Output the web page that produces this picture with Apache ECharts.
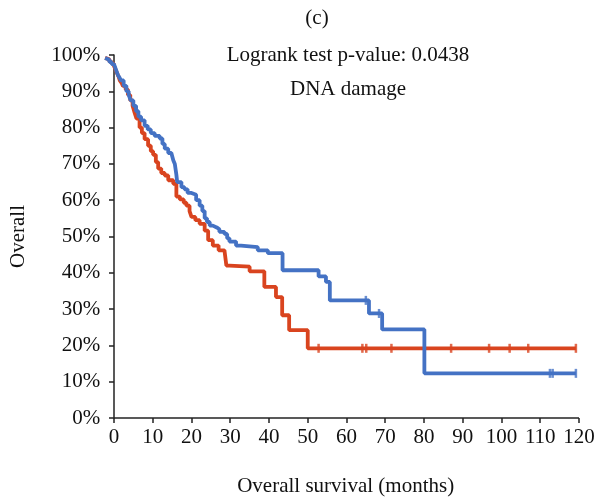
<!DOCTYPE html>
<html>
<head>
<meta charset="utf-8">
<script src="https://cdn.jsdelivr.net/npm/echarts@6/dist/echarts.min.js"></script>
<style>
  html, body { margin: 0; padding: 0; background: #fff; }
  #chart { width: 594px; height: 499px; }
</style>
</head>
<body>
<div id="chart"></div>
<script>
// Kaplan-Meier estimates: [month, survival %] after each step
const highGroup = [
  [-2.3, 99.2], [-1.8, 98.8], [-1.2, 98.2], [-0.6, 97.6], [0, 97], [0.4, 96], [0.8, 95],
  [1.2, 94], [1.5, 93], [2.0, 92.2], [2.3, 91.5], [3.0, 90.5],
  [3.6, 89], [4.2, 87.5], [4.8, 86], [5.3, 84.2], [5.8, 82.5], [6.6, 80], [7.2, 78.5],
  [7.9, 76.8], [8.8, 75], [9.5, 73.5], [10.1, 72.5], [10.8, 70.5], [11.4, 68.7],
  [12.2, 67.5], [13.1, 66.8], [14.0, 65.5], [15.3, 64.5], [16.1, 61], [17.0, 60.2],
  [18.0, 59.3], [18.7, 58.5], [19.5, 57], [20.0, 55.4], [21.0, 54.5], [22.1, 53.5],
  [23.4, 51.6], [24.3, 49], [25.5, 47.5], [27.0, 46.2], [28.5, 45.7], [29.0, 42],
  [29.8, 41.7], [35.0, 40.4], [38.8, 36.1], [41.8, 33.3], [43.4, 28.3], [45.2, 24.2],
  [50.0, 19.2], [119.2, 19.2]
];
const lowGroup = [
  [-2.3, 99.2], [-1.8, 98.7], [-1.2, 98.1], [-0.6, 97.5], [0, 97], [0.5, 96], [1.0, 94.5],
  [1.4, 93.8], [1.8, 93],
  [2.5, 91.5], [3.2, 90], [3.8, 89], [4.3, 87.5], [5.0, 86], [5.7, 84.5], [6.3, 83],
  [7.0, 82], [7.9, 80.5], [8.7, 79.5], [9.5, 78.5], [10.5, 77.7], [11.8, 77],
  [12.5, 75.5], [13.1, 74.2], [14.0, 73], [14.8, 72.5], [15.3, 71], [15.7, 70],
  [16.1, 67], [16.3, 65], [17.4, 63.6], [18.2, 63], [19.0, 62], [20.0, 61.5],
  [21.2, 60], [22.1, 58.5], [22.8, 57], [23.4, 55], [24.0, 54], [24.7, 53], [25.5, 52.5],
  [26.5, 52], [27.2, 51.3], [28.5, 50.7], [29.2, 49.5], [29.8, 48.6], [31.5, 47.5],
  [32.8, 47.1], [37.1, 46.2], [39.7, 45.4], [43.5, 40.7], [52.8, 39.0], [54.7, 37.5],
  [55.7, 32.4], [65.8, 28.8], [69.2, 24.4], [80.1, 12.3], [119.2, 12.3]
];
// censored observations
const highCensored = [
  [52.8, 19.2], [64.1, 19.2], [65.1, 19.2], [71.6, 19.2], [87.0, 19.2],
  [96.8, 19.2], [102.1, 19.2], [106.9, 19.2], [119.2, 19.2]
];
const lowCensored = [
  [65.0, 32.4], [68.4, 28.8], [112.5, 12.3], [113.2, 12.3], [119.2, 12.3]
];
const xTicks = [0, 10, 20, 30, 40, 50, 60, 70, 80, 90, 100, 110, 120];

const RED = '#D9441F';
const BLUE = '#4472C4';
const FONT = 'Liberation Serif';
const AXIS = '#222';
const TXT = '#111';
const FS = 21;

const chart = echarts.init(document.getElementById('chart'), null, { renderer: 'canvas' });
chart.setOption({
  backgroundColor: '#fff',
  animation: false,
  textStyle: { fontFamily: FONT },
  title: [
    { text: '(c)', left: 312, top: 3, textAlign: 'center',
      textStyle: { fontFamily: FONT, fontSize: FS, fontWeight: 'normal', color: TXT } },
    { text: 'Logrank test p-value: 0.0438', left: 343, top: 40, textAlign: 'center',
      textStyle: { fontFamily: FONT, fontSize: FS, fontWeight: 'normal', color: TXT } },
    { text: 'DNA damage', left: 343, top: 74, textAlign: 'center',
      textStyle: { fontFamily: FONT, fontSize: FS, fontWeight: 'normal', color: TXT } }
  ],
  grid: { left: 104.3, right: 15, top: 55, bottom: 81, containLabel: false, outerBoundsMode: 'none' },
  xAxis: {
    type: 'value', min: -2.5, max: 120,
    axisLine: { show: false },
    axisTick: { show: true, customValues: xTicks, length: 5, lineStyle: { color: AXIS, width: 1.5 } },
    axisLabel: { customValues: xTicks, fontFamily: FONT, fontSize: FS, color: TXT, margin: 9 },
    splitLine: { show: false },
    name: 'Overall survival (months)', nameLocation: 'middle', nameGap: 58,
    nameTextStyle: { fontFamily: FONT, fontSize: FS, color: TXT, padding: [0, 0, 0, 8] }
  },
  yAxis: {
    type: 'value', min: 0, max: 100, interval: 10,
    axisLine: { show: true, onZero: true, lineStyle: { color: AXIS, width: 1.5 } },
    axisTick: { show: true, length: 5, lineStyle: { color: AXIS, width: 1.5 } },
    axisLabel: { formatter: v => v + '%', fontFamily: FONT, fontSize: FS, color: TXT, margin: 4 },
    splitLine: { show: false },
    name: 'Overall', nameLocation: 'middle', nameGap: 75, nameRotate: 90,
    nameTextStyle: { fontFamily: FONT, fontSize: FS, color: TXT }
  },
  series: [
    {
      name: 'High', type: 'line', step: 'end', data: highGroup, showSymbol: false,
      lineStyle: { color: RED, width: 3.8 }, z: 3,
      markLine: {
        silent: true, symbol: 'none', animation: false,
        lineStyle: { color: AXIS, width: 1.5, type: 'solid' },
        label: { show: false },
        data: [[{ coord: [0, 0] }, { coord: [120, 0] }]]
      }
    },
    {
      name: 'High censored', type: 'scatter', data: highCensored,
      symbol: 'rect', symbolSize: [2.5, 9], itemStyle: { color: RED }, z: 4
    },
    {
      name: 'Low', type: 'line', step: 'end', data: lowGroup, showSymbol: false,
      lineStyle: { color: BLUE, width: 3.8 }, z: 5
    },
    {
      name: 'Low censored', type: 'scatter', data: lowCensored,
      symbol: 'rect', symbolSize: [2.5, 9], itemStyle: { color: BLUE }, z: 6
    }
  ]
});
</script>
</body>
</html>
